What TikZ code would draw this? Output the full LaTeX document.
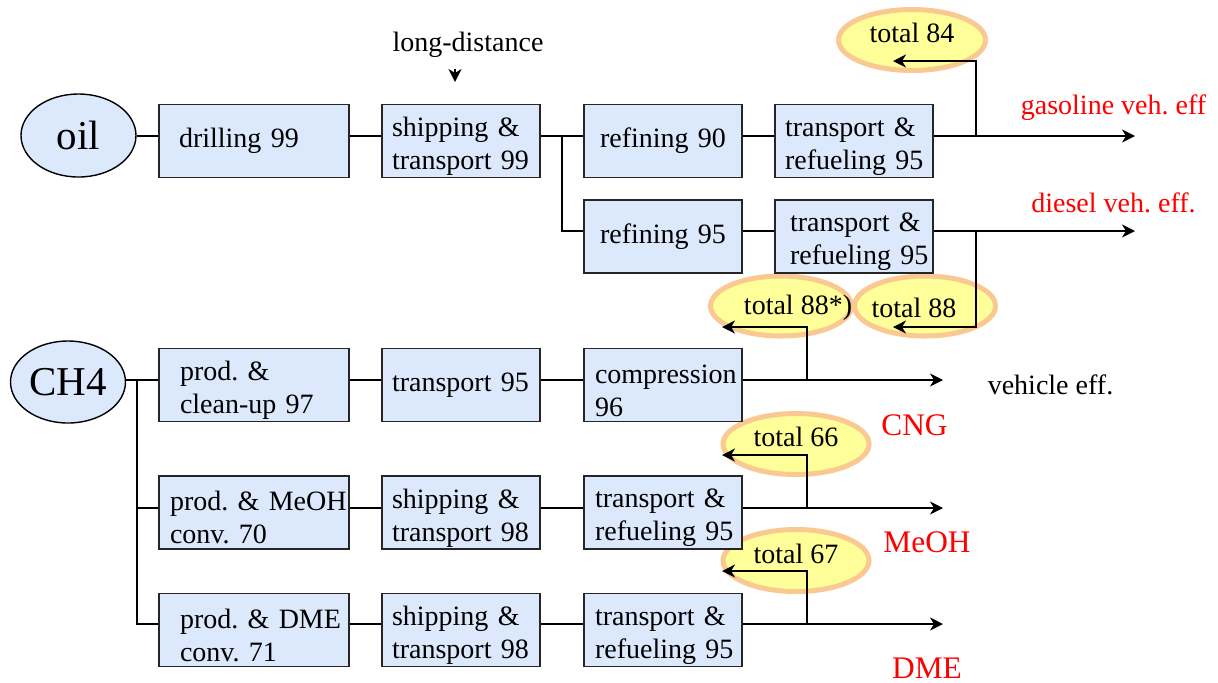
\documentclass[tikz,border=0pt]{standalone}
\usepackage{fontspec}
\setmainfont{Liberation Serif}
\usetikzlibrary{shapes.geometric,arrows.meta,positioning}

\definecolor{boxblue}{RGB}{220,232,252}
\definecolor{totfill}{RGB}{255,255,153}
\definecolor{totline}{RGB}{250,200,145}

\begin{document}
\begin{tikzpicture}[
				x=0.5pt, y=-0.5pt,
				font=\fontsize{14}{16.5}\selectfont\frenchspacing,
				stage/.style={rectangle, draw=black!85, line width=0.7pt, fill=boxblue, minimum width=79pt, minimum height=36.5pt, text width=79pt, inner sep=0pt, align=left},
				wide/.style={stage, minimum width=95pt, text width=95pt},
				textin/.style={execute at begin node={\leftskip=#1\relax}},
				twoline/.style={text height=15pt},
				fuel/.style={ellipse, draw=black, line width=0.7pt, fill=boxblue, minimum width=57.5pt, minimum height=41.5pt, inner sep=0pt, font=\fontsize{20.5}{24}\selectfont},
				total/.style={ellipse, draw=totline, line width=2.5pt, fill=totfill, minimum width=73pt, minimum height=30.5pt, inner sep=0pt},
				raised/.style={text depth=7pt},
				result/.style={text=red, font=\fontsize{15.7}{18}\selectfont},
				link/.style={line width=0.7pt},
				flow/.style={link, -{Stealth[length=6.5pt, width=6.5pt, inset=2pt]}}
				]
				\useasboundingbox (0,0) rectangle (1218,682);
				
				\node[total, raised, minimum width=73.5pt] (t84) at (912,40) {total 84};
				\node[total, minimum width=70.5pt, minimum height=30pt, label={[xshift=8.5pt, yshift=-1pt]center:total 88*)}] (t88s) at (781,306) {};
				\node[total, minimum width=70.5pt, minimum height=30pt, label={[xshift=-5.5pt, yshift=-1pt]center:total 88}] (t88) at (925,306) {};
				\node[total, raised] (t66) at (796,444) {total 66};
				\node[total, raised, minimum height=31pt] (t67) at (796,560.5) {total 67};
				
				\node[fuel] (oil) at (78.5,135.5) {oil};
				\node[fuel, minimum height=41pt] (ch4) at (68,382) {CH4};
				
				\node[wide, textin=10pt] (drill) at (254,141) {drilling 99};
				\node[stage, twoline, textin=5pt] (ship1) at (461,141) {shipping \&\\transport 99};
				\node[stage, textin=8pt] (ref90) at (663,141) {refining 90};
				\node[stage, twoline, textin=5pt] (trg1) at (854,141) {transport \&\\refueling 95};
				\node[stage, textin=8pt] (ref95) at (663,236.5) {refining 95};
				\node[stage, twoline, textin=7.5pt] (trg2) at (854,236.5) {transport \&\\refueling 95};
				
				\node[wide, twoline, textin=10.5pt] (prod1) at (254,385) {prod. \&\\clean-up 97};
				\node[stage, textin=5pt] (tr95) at (461,385) {transport 95};
				\node[stage, twoline, textin=5.5pt] (comp) at (663,385) {compression\\96};
				\node[wide, twoline, textin=5.5pt] (prod2) at (254,512.5) {prod. \& MeOH\\conv. 70};
				\node[stage, twoline, textin=5pt] (ship2) at (461,512.5) {shipping \&\\transport 98};
				\node[stage, twoline, textin=5.5pt] (trg3) at (663,512.5) {transport \&\\refueling 95};
				\node[wide, twoline, textin=10.5pt] (prod3) at (254,630) {prod. \& DME\\conv. 71};
				\node[stage, twoline, textin=5pt] (ship3) at (461,630) {shipping \&\\transport 98};
				\node[stage, twoline, textin=5.5pt] (trg4) at (663,630) {transport \&\\refueling 95};
				
				\node (ld) at (468,45) {long-distance};
				\node[text=red] (gas) at (1113.5,108) {gasoline veh. eff};
				\node[text=red] (diesel) at (1113.5,203) {diesel veh. eff.};
				\node (veh) at (1050.5,385) {vehicle eff.};
				\node[result] (cng) at (914.5,425) {CNG};
				\node[result] (meoh) at (927,542) {MeOH};
				\node[result] (dme) at (927,668) {DME};
				
				\coordinate (r1) at (0,136);
				\coordinate (r2) at (0,231);
				\coordinate (r3) at (0,380);
				\coordinate (r4) at (0,508);
				\coordinate (r5) at (0,624);
				\coordinate (split) at (562,136);
				\coordinate (trunk) at (137,380);
				\coordinate (ldtip) at (455,82);
				\coordinate (gasbr) at (976,136);
				\coordinate (gasend) at (1135,136);
				\coordinate (t84tip) at (893,61);
				\coordinate (dieselbr) at (976,231);
				\coordinate (dieselend) at (1135,231);
				\coordinate (t88tip) at (893,327);
				\coordinate (cngbr) at (807,380);
				\coordinate (cngend) at (943,380);
				\coordinate (t88stip) at (722,327);
				\coordinate (meohbr) at (807,508);
				\coordinate (meohend) at (943,508);
				\coordinate (t66tip) at (722,455);
				\coordinate (dmebr) at (807,624);
				\coordinate (dmeend) at (943,624);
				\coordinate (t67tip) at (722,571);
				
				\draw[flow, shorten <=2pt] (ld.south -| ldtip) -- (ldtip);
				
				\draw[link] (oil.east |- r1) -- (drill.west |- r1);
				\draw[link] (drill.east |- r1) -- (ship1.west |- r1);
				\draw[link] (ship1.east |- r1) -- (ref90.west |- r1);
				\draw[link] (split) |- (ref95.west |- r2);
				\draw[link] (ref90.east |- r1) -- (trg1.west |- r1);
				\draw[link] (ref95.east |- r2) -- (trg2.west |- r2);
				\draw[flow] (trg1.east |- r1) -- (gasend);
				\draw[flow] (gasbr) |- (t84tip);
				\draw[flow] (trg2.east |- r2) -- (dieselend);
				\draw[flow] (dieselbr) |- (t88tip);
				
				\draw[link] (ch4.east |- r3) -- (prod1.west |- r3);
				\draw[link] (trunk) |- (prod2.west |- r4);
				\draw[link] (trunk) |- (prod3.west |- r5);
				\draw[link] (prod1.east |- r3) -- (tr95.west |- r3);
				\draw[link] (tr95.east |- r3) -- (comp.west |- r3);
				\draw[link] (prod2.east |- r4) -- (ship2.west |- r4);
				\draw[link] (ship2.east |- r4) -- (trg3.west |- r4);
				\draw[link] (prod3.east |- r5) -- (ship3.west |- r5);
				\draw[link] (ship3.east |- r5) -- (trg4.west |- r5);
				\draw[flow] (comp.east |- r3) -- (cngend);
				\draw[flow] (cngbr) |- (t88stip);
				\draw[flow] (trg3.east |- r4) -- (meohend);
				\draw[flow] (meohbr) |- (t66tip);
				\draw[flow] (trg4.east |- r5) -- (dmeend);
				\draw[flow] (dmebr) |- (t67tip);
			\end{tikzpicture}
\end{document}
